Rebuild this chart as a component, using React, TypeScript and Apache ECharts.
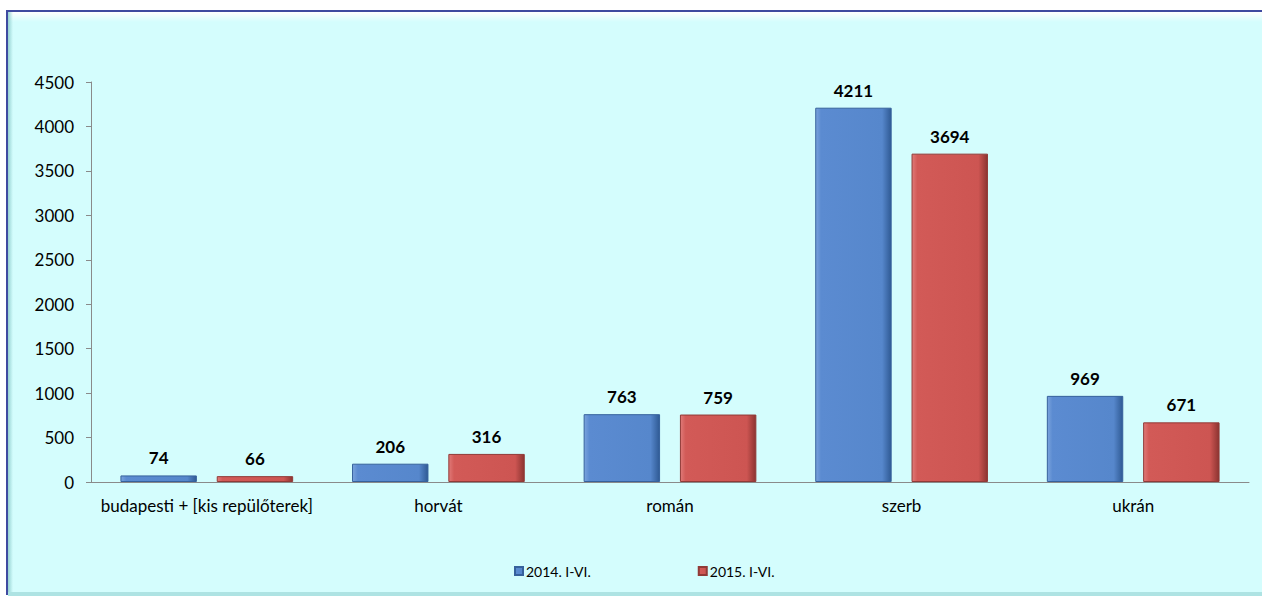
import React, { useEffect, useRef } from "react";
import * as echarts from "echarts";

const categories = ["budapesti + [kis repülőterek]", "horvát", "román", "szerb", "ukrán"];
const series2014 = [74, 206, 763, 4211, 969];
const series2015 = [66, 316, 759, 3694, 671];
const seriesNames = ["2014. I-VI.", "2015. I-VI."];

const FONT = "Lato, 'Open Sans', sans-serif";

function barGradient(light: string, main: string, mid: string, dark: string) {
  return new echarts.graphic.LinearGradient(0, 0, 1, 0, [
    { offset: 0, color: light },
    { offset: 0.07, color: main },
    { offset: 0.88, color: mid },
    { offset: 1, color: dark },
  ]);
}

export default function App() {
  const ref = useRef<HTMLDivElement>(null);
  useEffect(() => {
    if (!ref.current) return;
    const chart = echarts.init(ref.current, undefined, { renderer: "svg" });
    const blue = barGradient("#7aa3dc", "#5b8bd1", "#5687cc", "#2f5a94");
    const red = barGradient("#e07a78", "#d25a57", "#cd5552", "#8c3431");
    const dataLabel = {
      show: true,
      position: "top",
      distance: 9,
      color: "#000",
      fontWeight: "bold",
      fontSize: 17,
      fontFamily: FONT,
    };
    chart.setOption({
      animation: false,
      backgroundColor: "#ffffff",
      textStyle: { fontFamily: FONT },
      graphic: [
        {
          type: "rect",
          z: -10,
          silent: true,
          shape: { x: 7, y: 11, width: 1262, height: 583 },
          style: { fill: "#d4fdfd", stroke: "#3f4aa0", lineWidth: 2 },
        },
        {
          type: "rect",
          z: -9,
          silent: true,
          shape: { x: 8, y: 12, width: 1254, height: 10 },
          style: {
            fill: new echarts.graphic.LinearGradient(0, 0, 0, 1, [
              { offset: 0, color: "rgba(255,255,255,1)" },
              { offset: 1, color: "rgba(255,255,255,0)" },
            ]),
          },
        },
        {
          type: "rect",
          z: -9,
          silent: true,
          shape: { x: 8, y: 12, width: 5, height: 582 },
          style: {
            fill: new echarts.graphic.LinearGradient(0, 0, 1, 0, [
              { offset: 0, color: "rgba(150,210,210,1)" },
              { offset: 1, color: "rgba(150,210,210,0)" },
            ]),
          },
        },
        {
          type: "rect",
          z: -9,
          silent: true,
          shape: { x: 8, y: 592, width: 1254, height: 4 },
          style: { fill: "#aee3e3" },
        },
      ],
      legend: {
        bottom: 13,
        left: 509,
        itemWidth: 8,
        itemHeight: 8,
        itemGap: 107,
        icon: "rect",
        textStyle: { fontSize: 14, color: "#000", fontFamily: FONT, padding: [0, 0, 0, -2] },
        data: seriesNames,
      },
      grid: { left: 91, right: 13, top: 82, bottom: 114, containLabel: false },
      xAxis: {
        type: "category",
        data: categories,
        axisLine: { lineStyle: { color: "#8a8a8a", width: 1 } },
        axisTick: { show: false },
        axisLabel: { color: "#000", fontSize: 17, margin: 15, interval: 0, fontFamily: FONT },
      },
      yAxis: {
        type: "value",
        min: 0,
        max: 4500,
        interval: 500,
        axisLine: { show: true, lineStyle: { color: "#8a8a8a", width: 1 } },
        axisTick: { show: true, length: 5, lineStyle: { color: "#8a8a8a" } },
        splitLine: { show: false },
        axisLabel: {
          color: "#000",
          fontSize: 17,
          margin: 17,
          fontFamily: FONT,
          formatter: (v: number) => String(v),
        },
      },
      series: [
        {
          name: seriesNames[0],
          type: "bar",
          data: series2014,
          barWidth: "33%",
          barGap: "26%",
          itemStyle: { color: blue, borderColor: "#36619c", borderWidth: 1 },
          label: dataLabel,
        },
        {
          name: seriesNames[1],
          type: "bar",
          data: series2015,
          barWidth: "33%",
          itemStyle: { color: red, borderColor: "#913a37", borderWidth: 1 },
          label: dataLabel,
        },
      ],
    });
    return () => chart.dispose();
  }, []);
  return (
    <div
      ref={ref}
      style={{ position: "absolute", left: 0, top: 0, width: 1262, height: 596 }}
    />
  );
}
